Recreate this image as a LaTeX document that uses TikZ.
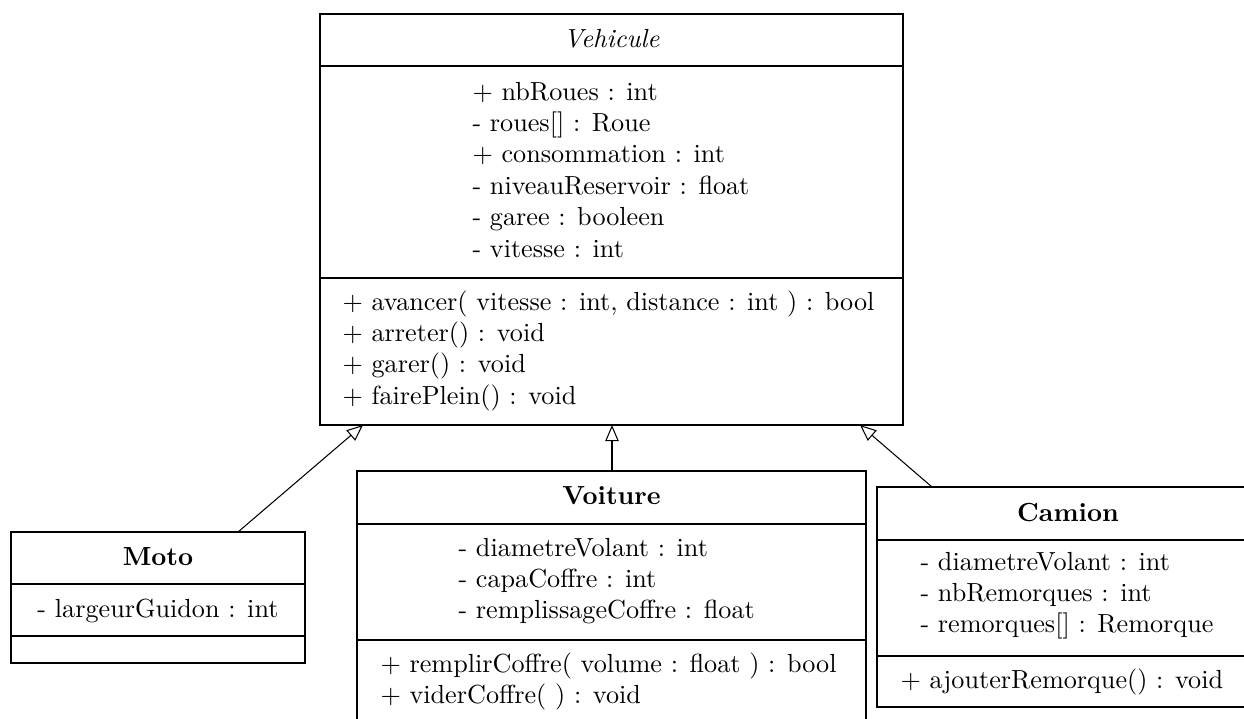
\documentclass[tikz,border=0pt]{standalone}
\usetikzlibrary{arrows.meta,calc}
\newcommand\pxu{0.3821pt}
\begin{document}
\begin{tikzpicture}[x=0.3821pt,y=-0.3821pt,
  box/.style={draw, line width=0.4pt, anchor=north west, inner sep=0pt, outer sep=0pt},
  sep/.style={line width=0.4pt},
  txt/.style={anchor=base west, inner sep=0pt},
  ttl/.style={anchor=base, inner sep=0pt},
  inherit/.style={draw, line width=0.4pt, -{Triangle[open, length=6.2pt, width=5.2pt, fill=white]}}]
\useasboundingbox (0,0) rectangle (1244,718);
\clip (0,0) rectangle (1244,718);

% Vehicule
\node[box, minimum width=583*\pxu, minimum height=411*\pxu] (veh) at (320,14) {};
\draw[sep] ($(veh.north west)+(0,52)$) -- ($(veh.north east)+(0,52)$);
\draw[sep] ($(veh.north west)+(0,264)$) -- ($(veh.north east)+(0,264)$);
\node[ttl] (vehT) at (611.5,47) {\itshape Vehicule};
\node[txt] (va1) at (472,100) {$+$ nbRoues : int};
\node[txt] (va2) at (472,131.4) {- roues[] : Roue};
\node[txt] (va3) at (472,162.8) {$+$ consommation : int};
\node[txt] (va4) at (472,194.2) {- niveauReservoir : float};
\node[txt] (va5) at (472,225.6) {- garee : booleen};
\node[txt] (va6) at (472,257) {- vitesse : int};
\node[txt] (vm1) at (342,310) {$+$ avancer( vitesse : int, distance : int ) : bool};
\node[txt] (vm2) at (342,341.4) {$+$ arreter() : void};
\node[txt] (vm3) at (342,372.8) {$+$ garer() : void};
\node[txt] (vm4) at (342,404.2) {$+$ fairePlein() : void};

% Moto
\node[box, minimum width=294*\pxu, minimum height=131*\pxu] (moto) at (11,532) {};
\draw[sep] ($(moto.north west)+(0,52)$) -- ($(moto.north east)+(0,52)$);
\draw[sep] ($(moto.north west)+(0,104)$) -- ($(moto.north east)+(0,104)$);
\node[ttl] (motoT) at (158,565) {\bfseries Moto};
\node[ttl] (ma1) at (158,617) {- largeurGuidon : int};

% Voiture
\node[box, minimum width=509*\pxu, minimum height=260*\pxu] (voit) at (357,471) {};
\draw[sep] ($(voit.north west)+(0,53)$) -- ($(voit.north east)+(0,53)$);
\draw[sep] ($(voit.north west)+(0,169)$) -- ($(voit.north east)+(0,169)$);
\node[ttl] (voitT) at (611.5,504) {\bfseries Voiture};
\node[txt] (wa1) at (458,556) {- diametreVolant : int};
\node[txt] (wa2) at (458,587.4) {- capaCoffre : int};
\node[txt] (wa3) at (458,618.8) {- remplissageCoffre : float};
\node[txt] (wm1) at (380,672) {$+$ remplirCoffre( volume : float ) : bool};
\node[txt] (wm2) at (380,703.4) {$+$ viderCoffre( ) : void};

% Camion
\node[box, minimum width=383*\pxu, minimum height=220*\pxu] (cam) at (877,487) {};
\draw[sep] ($(cam.north west)+(0,53)$) -- ($(cam.north east)+(0,53)$);
\draw[sep] ($(cam.north west)+(0,169)$) -- ($(cam.north east)+(0,169)$);
\node[ttl] (camT) at (1068,521) {\bfseries Camion};
\node[txt] (ca1) at (920,570) {- diametreVolant : int};
\node[txt] (ca2) at (920,601.4) {- nbRemorques : int};
\node[txt] (ca3) at (920,632.8) {- remorques[] : Remorque};
\node[txt] (cm1) at (900,688) {$+$ ajouterRemorque() : void};

% inheritance
\draw[inherit] ($(moto.north west)+(227,0)$) -- ($(veh.south west)+(43,0)$);
\draw[inherit] ($(voit.north west)+(255,0)$) -- ($(veh.south west)+(292,0)$);
\draw[inherit] ($(cam.north west)+(55,0)$) -- ($(veh.south east)+(-43,0)$);
\end{tikzpicture}
\end{document}
